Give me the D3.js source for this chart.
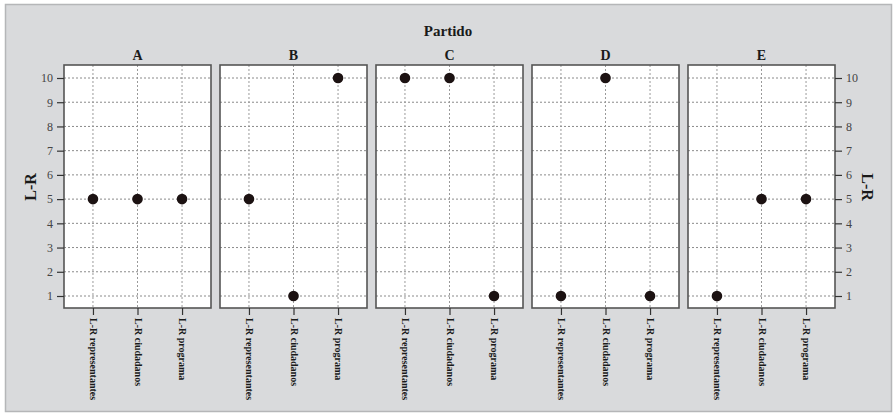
<!DOCTYPE html>
<html><head><meta charset="utf-8">
<script src="https://cdn.jsdelivr.net/npm/d3@7"></script>
<style>body{margin:0;background:#fff}svg{display:block}</style>
</head><body>
<script>
const partidos = ["A","B","C","D","E"];
const variables = ["L-R representantes","L-R ciudadanos","L-R programa"];
const valA = [5,5,5];
const valB = [5,1,10];
const valC = [10,10,1];
const valD = [1,10,1];
const valE = [1,5,5];
const yTicks = [1,2,3,4,5,6,7,8,9,10];
const seriesVals = [valA,valB,valC,valD,valE];

const SERIF = "'Liberation Serif', 'DejaVu Serif', serif";
const W=895,H=418;
const svg=d3.select("body").append("svg").attr("width",W).attr("height",H);
svg.append("rect").attr("x",5.5).attr("y",4.5).attr("width",886).attr("height",407)
  .attr("fill","#d9dadc").attr("stroke","#b5b6b8").attr("stroke-width",1.5);

const pTop=65,pBot=308,pW=147,step=156,x0=64;
const y=d3.scaleLinear().domain([1,10]).range([296,78]);
const x=d3.scalePoint().domain(variables).range([0,pW]).padding(0.65);

function boldText(sel,size){
  return sel.style("font-family",SERIF).style("font-weight","bold").style("font-size",size+"px").attr("fill","#1a1a1a");
}

boldText(svg.append("text").attr("x",448).attr("y",36).attr("text-anchor","middle"),15).text("Partido");

partidos.forEach((p,i)=>{
  const g=svg.append("g").attr("transform",`translate(${x0+i*step},0)`);
  g.append("rect").attr("x",0).attr("y",pTop).attr("width",pW).attr("height",pBot-pTop).attr("fill","#fff");
  g.selectAll(".hg").data(yTicks).enter().append("line")
    .attr("x1",0).attr("x2",pW).attr("y1",d=>y(d)).attr("y2",d=>y(d))
    .attr("stroke","#8a8a8a").attr("stroke-width",1).attr("stroke-dasharray","2,2");
  g.selectAll(".vg").data(variables).enter().append("line")
    .attr("y1",pTop).attr("y2",pBot).attr("x1",d=>x(d)).attr("x2",d=>x(d))
    .attr("stroke","#9a9a9a").attr("stroke-width",1).attr("stroke-dasharray","2,2");
  g.append("rect").attr("x",0).attr("y",pTop).attr("width",pW).attr("height",pBot-pTop)
    .attr("fill","none").attr("stroke","#555").attr("stroke-width",1.6);
  boldText(g.append("text").attr("x",pW/2).attr("y",60).attr("text-anchor","middle"),14).text(p);
  const xa=g.append("g").attr("transform",`translate(0,${pBot})`)
    .call(d3.axisBottom(x).tickSize(7).tickSizeOuter(0));
  xa.select(".domain").remove();
  xa.selectAll(".tick line").attr("stroke","#333").attr("stroke-width",1.2);
  boldText(xa.selectAll(".tick text").attr("transform","rotate(90)").attr("text-anchor","start")
    .attr("x",10).attr("y",0).attr("dy","0.35em"),10);
  g.selectAll("circle").data(variables.map((v,j)=>({v,val:seriesVals[i][j]}))).enter().append("circle")
    .attr("cx",d=>x(d.v)).attr("cy",d=>y(d.val)).attr("r",5.3).attr("fill","#1c1212");
  if(i===0 || i===partidos.length-1){
    const right = i!==0;
    const ya=g.append("g").attr("transform",`translate(${right?pW:0},0)`)
      .call((right?d3.axisRight(y):d3.axisLeft(y)).tickValues(yTicks).tickSize(7).tickPadding(4));
    ya.select(".domain").remove();
    ya.selectAll(".tick line").attr("stroke","#333").attr("stroke-width",1.2);
    ya.selectAll(".tick text").style("font-family",SERIF).style("font-weight","normal")
      .style("font-size","12px").attr("fill","#444");
  }
});
boldText(svg.append("text").attr("transform","translate(36,187) rotate(-90)").attr("text-anchor","middle"),16).text("L-R");
boldText(svg.append("text").attr("transform","translate(862,187) rotate(90)").attr("text-anchor","middle"),16).text("L-R");
</script>
</body></html>
